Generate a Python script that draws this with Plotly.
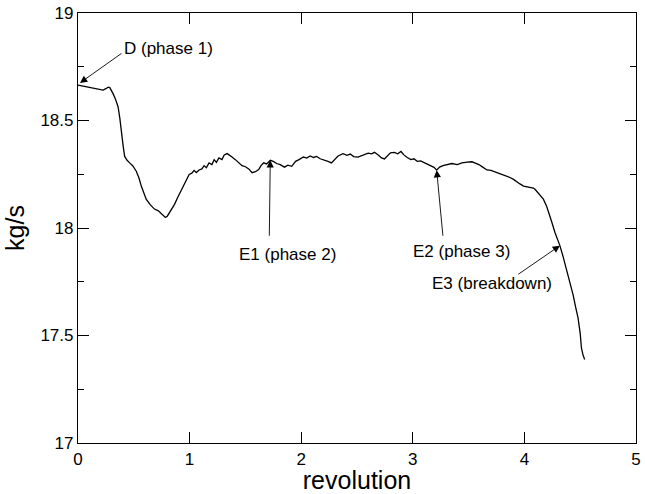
import plotly.graph_objects as go

revolution = [0.0, 0.05, 0.1, 0.15, 0.2, 0.225, 0.25, 0.27, 0.285, 0.3, 0.314, 0.335, 0.359, 0.375, 0.389,
              0.405, 0.418, 0.44, 0.463, 0.49, 0.522, 0.545, 0.567, 0.59, 0.611, 0.645, 0.685, 0.72, 0.75,
              0.783, 0.80, 0.819, 0.84, 0.865, 0.892, 0.92, 0.952, 0.975, 0.996, 1.02, 1.04, 1.06, 1.085,
              1.11, 1.13, 1.15, 1.174, 1.2, 1.22, 1.24, 1.263, 1.29, 1.31, 1.337, 1.36, 1.38, 1.41, 1.441,
              1.47, 1.50, 1.53, 1.56, 1.59, 1.619, 1.64, 1.664, 1.69, 1.723, 1.75, 1.78, 1.812, 1.85, 1.88,
              1.915, 1.95, 1.98, 2.02, 2.05, 2.08, 2.11, 2.138, 2.17, 2.2, 2.24, 2.271, 2.30, 2.33, 2.375,
              2.41, 2.44, 2.47, 2.509, 2.54, 2.57, 2.60, 2.63, 2.657, 2.69, 2.72, 2.746, 2.77, 2.80, 2.835,
              2.865, 2.894, 2.92, 2.95, 2.983, 3.01, 3.04, 3.07, 3.102, 3.13, 3.16, 3.19, 3.214, 3.24, 3.27,
              3.31, 3.35, 3.399, 3.44, 3.488, 3.53, 3.56, 3.592, 3.63, 3.665, 3.70, 3.73, 3.754, 3.78, 3.81,
              3.84, 3.87, 3.903, 3.93, 3.96, 3.992, 4.02, 4.05, 4.08, 4.095, 4.12, 4.145, 4.17, 4.20, 4.229,
              4.25, 4.273, 4.295, 4.318, 4.345, 4.377, 4.41, 4.437, 4.46, 4.481, 4.50, 4.511, 4.525, 4.54]

mass_flow = [18.665, 18.660, 18.655, 18.650, 18.645, 18.641, 18.648, 18.655, 18.653, 18.640, 18.625, 18.600,
             18.564, 18.51, 18.441, 18.38, 18.333, 18.315, 18.303, 18.29, 18.264, 18.235, 18.195, 18.16,
             18.134, 18.11, 18.088, 18.08, 18.065, 18.049, 18.055, 18.072, 18.085, 18.11, 18.141, 18.17,
             18.203, 18.225, 18.249, 18.255, 18.268, 18.258, 18.270, 18.275, 18.29, 18.28, 18.303, 18.295,
             18.318, 18.305, 18.326, 18.318, 18.34, 18.346, 18.335, 18.330, 18.318, 18.303, 18.29, 18.285,
             18.275, 18.257, 18.262, 18.272, 18.29, 18.303, 18.298, 18.315, 18.31, 18.30, 18.295, 18.283,
             18.292, 18.287, 18.31, 18.318, 18.330, 18.325, 18.335, 18.328, 18.333, 18.322, 18.318, 18.31,
             18.303, 18.318, 18.335, 18.346, 18.338, 18.344, 18.332, 18.330, 18.336, 18.340, 18.348, 18.345,
             18.352, 18.340, 18.326, 18.321, 18.335, 18.350, 18.352, 18.345, 18.356, 18.34, 18.328, 18.318,
             18.322, 18.31, 18.312, 18.303, 18.298, 18.29, 18.282, 18.269, 18.283, 18.290, 18.295, 18.30,
             18.295, 18.303, 18.306, 18.308, 18.302, 18.295, 18.282, 18.270, 18.268, 18.262, 18.257, 18.255,
             18.248, 18.243, 18.235, 18.226, 18.215, 18.205, 18.195, 18.192, 18.188, 18.186, 18.180, 18.165,
             18.15, 18.134, 18.10, 18.057, 18.02, 17.980, 17.95, 17.918, 17.87, 17.811, 17.75, 17.688, 17.63,
             17.581, 17.51, 17.442, 17.41, 17.388]

labels = ["D (phase 1)", "E1 (phase 2)", "E2 (phase 3)", "E3 (breakdown)"]
label_x = [0.807, 1.877, 3.44, 3.714]
label_y = [18.833, 17.876, 17.891, 17.742]
tip_x = [0.018, 1.723, 3.214, 4.318]
tip_y = [18.675, 18.315, 18.269, 17.918]
tail_x = [0.403, 1.714, 3.271, 3.932]
tail_y = [18.817, 17.957, 17.957, 17.780]

FONT = "Liberation Sans, Arial, Helvetica, sans-serif"

fig = go.Figure()
fig.add_trace(go.Scatter(x=revolution, y=mass_flow, mode="lines",
                         line=dict(color="black", width=1.3), showlegend=False))

for i in range(len(labels)):
    fig.add_annotation(x=tip_x[i], y=tip_y[i], ax=tail_x[i], ay=tail_y[i],
                       xref="x", yref="y", axref="x", ayref="y", text="",
                       showarrow=True, arrowhead=2, arrowsize=1.6, arrowwidth=0.9,
                       arrowcolor="black")
    fig.add_annotation(x=label_x[i], y=label_y[i], xref="x", yref="y", text=labels[i],
                       showarrow=False, font=dict(family=FONT, size=17, color="black"))

fig.update_xaxes(range=[0, 5], tickvals=[0, 1, 2, 3, 4, 5], ticks="inside", ticklen=11,
                 tickwidth=1, tickcolor="black", showline=True, linecolor="black", linewidth=1.2,
                 mirror="ticks", showgrid=False, zeroline=False,
                 tickfont=dict(family=FONT, size=17, color="black"),
                 title=dict(text="revolution", font=dict(family=FONT, size=25, color="black"), standoff=4))
fig.update_yaxes(range=[17, 19], tickvals=[17, 17.5, 18, 18.5, 19],
                 ticktext=["17", "17.5", "18", "18.5", "19"], ticks="inside", ticklen=11,
                 tickwidth=1, tickcolor="black", showline=True, linecolor="black", linewidth=1.2,
                 mirror="ticks", showgrid=False, zeroline=False,
                 minor=dict(dtick=0.25, ticks="inside", ticklen=6, tickcolor="black", showgrid=False),
                 tickfont=dict(family=FONT, size=17, color="black"),
                 title=dict(text="kg/s", font=dict(family=FONT, size=25, color="black"), standoff=8))

fig.update_layout(width=645, height=494, margin=dict(l=78, r=4, t=12, b=48),
                  plot_bgcolor="white", paper_bgcolor="white", showlegend=False)

fig.write_html("out.html")
